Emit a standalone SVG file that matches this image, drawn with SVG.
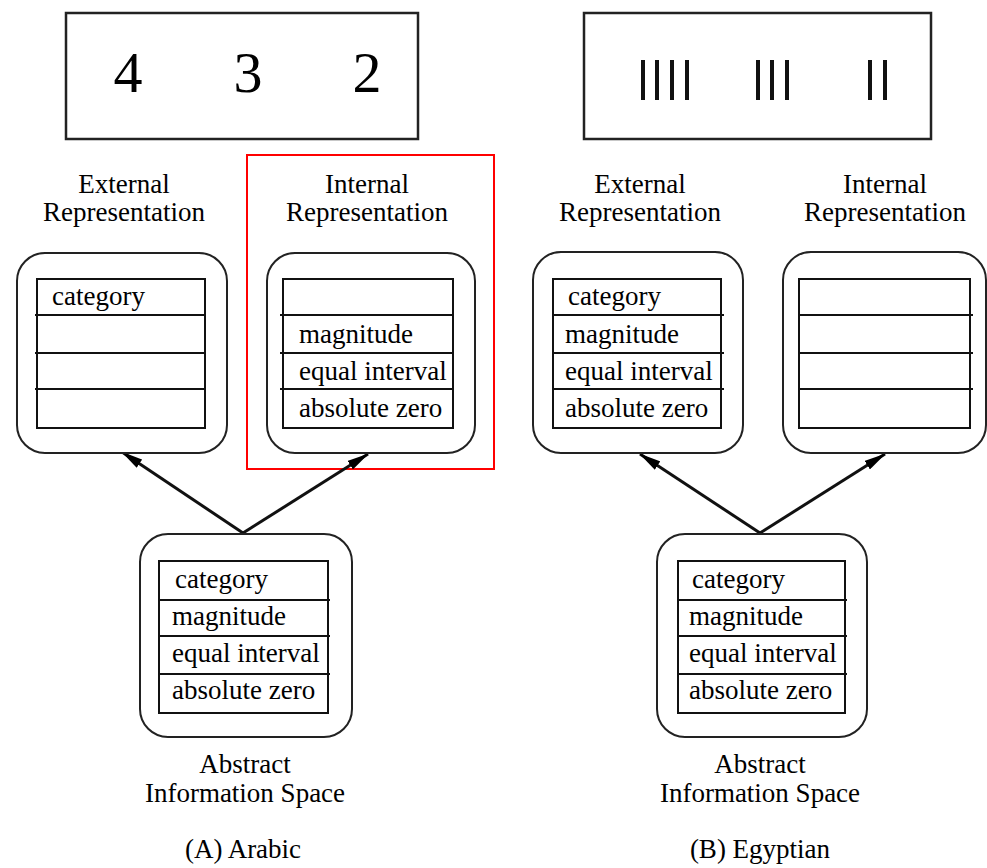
<svg xmlns="http://www.w3.org/2000/svg" width="987" height="868" viewBox="0 0 987 868">
<defs>
<marker id="ah" markerUnits="userSpaceOnUse" viewBox="0 0 22 10" refX="21" refY="5" markerWidth="22" markerHeight="10" orient="auto">
<path d="M0,0 L22,5 L0,10 z" fill="#000"/>
</marker>
</defs>
<style>
text{font-family:"Liberation Serif","Times New Roman",serif;fill:#000}
.lbl{font-size:27px;text-anchor:middle}
.cell{font-size:27px}
.num{font-size:58px;text-anchor:middle}
.frame{fill:#fff;stroke:#222;stroke-width:2.5}
.rbox{fill:#fff;stroke:#222;stroke-width:2}
.tbl{fill:none;stroke:#111;stroke-width:2}
.row{stroke:#111;stroke-width:2}
.tally{stroke:#111;stroke-width:4}
.conn{stroke:#111;stroke-width:3;fill:none;marker-end:url(#ah)}
</style>
<rect width="987" height="868" fill="#fff"/>

<g id="arabic-numerals">
<rect class="frame" x="66" y="13" width="352" height="126"/>
<text class="num" x="128" y="92">4</text>
<text class="num" x="248" y="92">3</text>
<text class="num" x="367" y="92">2</text>
</g>

<g id="egyptian-numerals">
<rect class="frame" x="584" y="13" width="347" height="126"/>
<line class="tally" x1="643" y1="60" x2="643" y2="100"/>
<line class="tally" x1="657" y1="60" x2="657" y2="100"/>
<line class="tally" x1="672" y1="60" x2="672" y2="100"/>
<line class="tally" x1="687" y1="60" x2="687" y2="100"/>
<line class="tally" x1="758" y1="60" x2="758" y2="100"/>
<line class="tally" x1="772" y1="60" x2="772" y2="100"/>
<line class="tally" x1="787" y1="60" x2="787" y2="100"/>
<line class="tally" x1="870" y1="60" x2="870" y2="100"/>
<line class="tally" x1="885" y1="60" x2="885" y2="100"/>
</g>

<g id="highlight">
<rect x="247" y="155" width="247" height="314" fill="none" stroke="#f00" stroke-width="2"/>
</g>

<g id="connectors">
<line class="conn" x1="243" y1="533" x2="122" y2="452"/>
<line class="conn" x1="243" y1="533" x2="368" y2="454"/>
<line class="conn" x1="760" y1="533" x2="640" y2="454"/>
<line class="conn" x1="760" y1="533" x2="885" y2="454"/>
</g>

<g id="a-external">
<text class="lbl" x="124" y="193">External</text>
<text class="lbl" x="124" y="221">Representation</text>
<rect class="rbox" x="17" y="253" width="210" height="200" rx="28"/>
<rect class="tbl" x="37" y="279" width="168" height="149"/>
<line class="row" x1="35" y1="315" x2="205" y2="315"/>
<line class="row" x1="35" y1="353" x2="205" y2="353"/>
<line class="row" x1="35" y1="389" x2="205" y2="389"/>
<text class="cell" x="52" y="305">category</text>
</g>

<g id="a-internal">
<text class="lbl" x="367" y="193">Internal</text>
<text class="lbl" x="367" y="221">Representation</text>
<rect class="rbox" x="267" y="253" width="208" height="200" rx="28"/>
<rect class="tbl" x="283" y="279" width="170" height="149"/>
<line class="row" x1="280" y1="315" x2="453" y2="315"/>
<line class="row" x1="280" y1="353" x2="453" y2="353"/>
<line class="row" x1="280" y1="389" x2="453" y2="389"/>
<text class="cell" x="299" y="343">magnitude</text>
<text class="cell" x="299" y="380">equal interval</text>
<text class="cell" x="299" y="417">absolute zero</text>
</g>

<g id="a-abstract">
<rect class="rbox" x="140" y="534" width="212" height="203" rx="28"/>
<rect class="tbl" x="159" y="561" width="169" height="152"/>
<line class="row" x1="159" y1="600" x2="330" y2="600"/>
<line class="row" x1="159" y1="636" x2="330" y2="636"/>
<line class="row" x1="159" y1="674" x2="330" y2="674"/>
<text class="cell" x="175" y="588">category</text>
<text class="cell" x="172" y="625">magnitude</text>
<text class="cell" x="172" y="662">equal interval</text>
<text class="cell" x="172" y="699">absolute zero</text>
<text class="lbl" x="245" y="773">Abstract</text>
<text class="lbl" x="245" y="802">Information Space</text>
</g>

<g id="b-external">
<text class="lbl" x="640" y="193">External</text>
<text class="lbl" x="640" y="221">Representation</text>
<rect class="rbox" x="533" y="252" width="210" height="201" rx="28"/>
<rect class="tbl" x="553" y="279" width="168" height="149"/>
<line class="row" x1="553" y1="315" x2="724" y2="315"/>
<line class="row" x1="553" y1="353" x2="724" y2="353"/>
<line class="row" x1="553" y1="389" x2="724" y2="389"/>
<text class="cell" x="568" y="305">category</text>
<text class="cell" x="565" y="343">magnitude</text>
<text class="cell" x="565" y="380">equal interval</text>
<text class="cell" x="565" y="417">absolute zero</text>
</g>

<g id="b-internal">
<text class="lbl" x="885" y="193">Internal</text>
<text class="lbl" x="885" y="221">Representation</text>
<rect class="rbox" x="783" y="252" width="203" height="201" rx="28"/>
<rect class="tbl" x="799" y="279" width="171" height="149"/>
<line class="row" x1="799" y1="315" x2="973" y2="315"/>
<line class="row" x1="799" y1="353" x2="973" y2="353"/>
<line class="row" x1="799" y1="389" x2="973" y2="389"/>
</g>

<g id="b-abstract">
<rect class="rbox" x="657" y="534" width="210" height="203" rx="28"/>
<rect class="tbl" x="678" y="561" width="167" height="152"/>
<line class="row" x1="678" y1="600" x2="847" y2="600"/>
<line class="row" x1="678" y1="636" x2="847" y2="636"/>
<line class="row" x1="678" y1="674" x2="847" y2="674"/>
<text class="cell" x="692" y="588">category</text>
<text class="cell" x="689" y="625">magnitude</text>
<text class="cell" x="689" y="662">equal interval</text>
<text class="cell" x="689" y="699">absolute zero</text>
<text class="lbl" x="760" y="773">Abstract</text>
<text class="lbl" x="760" y="802">Information Space</text>
</g>

<g id="captions">
<text class="lbl" x="243" y="858">(A) Arabic</text>
<text class="lbl" x="760" y="858">(B) Egyptian</text>
</g>
</svg>
